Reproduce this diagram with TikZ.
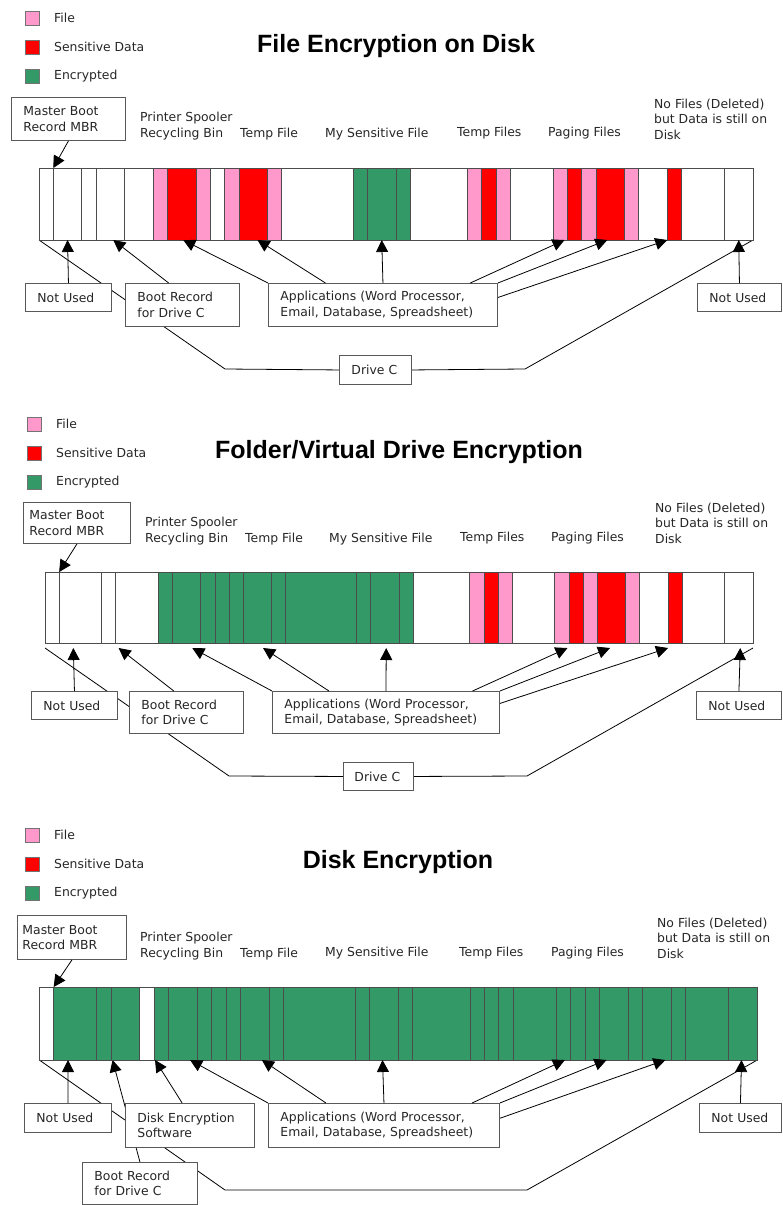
\documentclass[tikz,border=0pt]{standalone}
\usepackage{fontspec}
\setmainfont{DejaVu Sans}
\newfontfamily\titlefont{Liberation Sans}
\usetikzlibrary{arrows.meta,calc,backgrounds}
\definecolor{filepink}{HTML}{FF99CC}
\definecolor{sensred}{HTML}{FF0000}
\definecolor{encgreen}{HTML}{339966}

\begin{document}
\begin{tikzpicture}[
  x=1pt, y=-1pt,
  every node/.style={font=\fontsize{12.4}{15.5}\selectfont, text=black!85},
  box/.style={draw=black!65, fill=white, line width=0.9pt, align=left,
              inner xsep=12pt, inner ysep=0pt, anchor=north west},
  lbl/.style={anchor=west, align=left, inner sep=0pt},
  legsq/.style={draw=black!55, line width=0.8pt, minimum size=14pt, inner sep=0pt},
  ttl/.style={font=\titlefont\bfseries\fontsize{25}{30}\selectfont, text=black},
  cell/.style={draw=black!70, line width=0.8pt},
  arr/.style={-{Triangle[length=12pt,width=12pt]}, line width=0.8pt},
  conn/.style={line width=0.8pt}
]
\useasboundingbox (0,0) rectangle (782,1205);

% legends
\foreach \p/\x/\y in {a/32/18, b/34/424, c/32/835} {
  \node[legsq, fill=filepink] (\p-lf) at (\x,\y) {};
  \node[legsq, fill=sensred]  (\p-ls) at (\x,\y+29) {};
  \node[legsq, fill=encgreen] (\p-le) at (\x,\y+58) {};
  \node[lbl] (\p-lft) at (\x+22,\y) {File};
  \node[lbl] (\p-lst) at (\x+22,\y+29) {Sensitive Data};
  \node[lbl] (\p-let) at (\x+22,\y+58) {Encrypted};
}

%% file encryption on disk
\node[ttl] (aTitle) at (396,46) {File Encryption on Disk};
\node[box, text width=90pt, minimum height=43pt] (aMBR) at (11,97) {Master Boot\\Record MBR};
\node[lbl] (aSpool)   at (140,126) {Printer Spooler\\Recycling Bin};
\node[lbl] (aTemp)    at (240,134) {Temp File};
\node[lbl] (aMine)    at (325,134) {My Sensitive File};
\node[lbl] (aTemps)   at (457,133) {Temp Files};
\node[lbl] (aPaging)  at (548,133) {Paging Files};
\node[lbl] (aDeleted) at (654,119) {No Files (Deleted)\\but Data is still on\\Disk};

\begin{scope}[shift={(39,168)}, x=14.28pt]
  \foreach \a/\b/\c in {0/1/white, 1/3/white, 3/4/white, 4/6/white, 6/8/white,
      8/9/filepink, 9/11/sensred, 11/12/filepink, 12/13/white, 13/14/filepink,
      14/16/sensred, 16/17/filepink, 17/22/white, 22/23/encgreen, 23/25/encgreen,
      25/26/encgreen, 26/30/white, 30/31/filepink, 31/32/sensred, 32/33/filepink,
      33/36/white, 36/37/filepink, 37/38/sensred, 38/39/filepink, 39/41/sensred,
      41/42/filepink, 42/44/white, 44/45/sensred, 45/48/white, 48/50/white}
    \draw[cell, fill=\c] (\a,0) rectangle (\b,72);
  \coordinate (a-bl) at (0,72);
  \coordinate (a-br) at (50,72);
  \coordinate (a-mbr) at (1,0);
  \foreach \n/\u in {1/2, 2/5.2, 3/10.1, 4/15.3, 5/24, 6/36.8, 7/39.8, 8/44, 9/49}
    \coordinate (a-t\n) at (\u,72);
\end{scope}

\node[box, text width=62pt,  minimum height=28pt] (aUnusedL) at (25,283) {Not Used};
\node[box, text width=90pt,  minimum height=43pt] (aBoot)    at (125,283) {Boot Record\\for Drive C};
\node[box, text width=205pt, minimum height=43pt] (aApps)    at (268,283) {Applications (Word Processor,\\Email, Database, Spreadsheet)};
\node[box, text width=60pt,  minimum height=28pt] (aUnusedR) at (697,283) {Not Used};
\node[box, text width=48pt,  minimum height=29pt] (aDrive)   at (339,355) {Drive C};
\coordinate (aDL) at (225,369);
\coordinate (aDR) at (525,369);

\draw[arr] (aMBR.south) -- (a-mbr);
\draw[arr] (aUnusedL.north) -- (a-t1);
\draw[arr] ($(aBoot.north west)!0.38!(aBoot.north east)$) -- (a-t2);
\draw[arr] (aApps.north west) -- (a-t3);
\draw[arr] ($(aApps.north west)!0.25!(aApps.north east)$) -- (a-t4);
\draw[arr] (aApps.north) -- (a-t5);
\draw[arr] ($(aApps.north west)!0.88!(aApps.north east)$) -- (a-t6);
\draw[arr] (aApps.north east) -- (a-t7);
\draw[arr] ($(aApps.north east)!0.33!(aApps.south east)$) -- (a-t8);
\draw[arr] (aUnusedR.north) -- (a-t9);
\begin{pgfonlayer}{background}
  \draw[conn] (a-bl) -- (aDL) -- (aDrive.west);
  \draw[conn] (aDrive.east) -- (aDR) -- (a-br);
\end{pgfonlayer}

%% folder / virtual drive encryption
\node[ttl] (bTitle) at (399,452) {Folder/Virtual Drive Encryption};
\node[box, text width=95pt, minimum height=41pt, inner xsep=6pt] (bMBR) at (23,502) {Master Boot\\Record MBR};
\node[lbl] (bSpool)   at (145,531) {Printer Spooler\\Recycling Bin};
\node[lbl] (bTemp)    at (245,539) {Temp File};
\node[lbl] (bMine)    at (329,539) {My Sensitive File};
\node[lbl] (bTemps)   at (460,538) {Temp Files};
\node[lbl] (bPaging)  at (551,538) {Paging Files};
\node[lbl] (bDeleted) at (655,523) {No Files (Deleted)\\but Data is still on\\Disk};

\begin{scope}[shift={(45,572)}, x=14.16pt]
  \foreach \a/\b/\c in {0/1/white, 1/4/white, 4/5/white, 5/8/white,
      8/9/encgreen, 9/11/encgreen, 11/12/encgreen, 12/13/encgreen, 13/14/encgreen,
      14/16/encgreen, 16/17/encgreen, 17/22/encgreen, 22/23/encgreen, 23/25/encgreen,
      25/26/encgreen, 26/30/white, 30/31/filepink, 31/32/sensred, 32/33/filepink,
      33/36/white, 36/37/filepink, 37/38/sensred, 38/39/filepink, 39/41/sensred,
      41/42/filepink, 42/44/white, 44/45/sensred, 45/48/white, 48/50/white}
    \draw[cell, fill=\c] (\a,0) rectangle (\b,71);
  \coordinate (b-bl) at (0,76);
  \coordinate (b-br) at (50,76);
  \coordinate (b-mbr) at (1,0);
  \foreach \n/\u in {1/2, 2/5.2, 3/10.4, 4/15.4, 5/24.1, 6/36.9, 7/39.9, 8/44, 9/49.1}
    \coordinate (b-t\n) at (\u,76);
\end{scope}

\node[box, text width=62pt,  minimum height=28pt] (bUnusedL) at (31,691) {Not Used};
\node[box, text width=90pt,  minimum height=42pt] (bBoot)    at (129,691) {Boot Record\\for Drive C};
\node[box, text width=203pt, minimum height=42pt] (bApps)    at (272,691) {Applications (Word Processor,\\Email, Database, Spreadsheet)};
\node[box, text width=61pt,  minimum height=28pt] (bUnusedR) at (696,691) {Not Used};
\node[box, text width=48pt,  minimum height=28pt, inner xsep=11pt] (bDrive) at (343,762) {Drive C};
\coordinate (bDL) at (229,776);
\coordinate (bDR) at (527,776);

\draw[arr] (bMBR.south) -- (b-mbr);
\draw[arr] (bUnusedL.north) -- (b-t1);
\draw[arr] ($(bBoot.north west)!0.39!(bBoot.north east)$) -- (b-t2);
\draw[arr] (bApps.north west) -- (b-t3);
\draw[arr] ($(bApps.north west)!0.25!(bApps.north east)$) -- (b-t4);
\draw[arr] (bApps.north) -- (b-t5);
\draw[arr] ($(bApps.north west)!0.88!(bApps.north east)$) -- (b-t6);
\draw[arr] (bApps.north east) -- (b-t7);
\draw[arr] ($(bApps.north east)!0.29!(bApps.south east)$) -- (b-t8);
\draw[arr] (bUnusedR.north) -- (b-t9);
\begin{pgfonlayer}{background}
  \draw[conn] (b-bl) -- (bDL) -- (bDrive.west);
  \draw[conn] (bDrive.east) -- (bDR) -- (b-br);
\end{pgfonlayer}

%% disk encryption
\node[ttl] (cTitle) at (398,862) {Disk Encryption};
\node[box, text width=99pt, minimum height=44pt, inner xsep=5pt] (cMBR) at (17,915) {Master Boot\\Record MBR};
\node[lbl] (cSpool)   at (140,946) {Printer Spooler\\Recycling Bin};
\node[lbl] (cTemp)    at (240,954) {Temp File};
\node[lbl] (cMine)    at (325,953) {My Sensitive File};
\node[lbl] (cTemps)   at (459,953) {Temp Files};
\node[lbl] (cPaging)  at (551,953) {Paging Files};
\node[lbl] (cDeleted) at (657,938) {No Files (Deleted)\\but Data is still on\\Disk};

\begin{scope}[shift={(39.3,987)}, x=14.36pt]
  \foreach \a/\b/\c in {0/1/white, 1/4/encgreen, 4/5/encgreen, 5/7/encgreen, 7/8/white,
      8/9/encgreen, 9/11/encgreen, 11/12/encgreen, 12/13/encgreen, 13/14/encgreen,
      14/16/encgreen, 16/17/encgreen, 17/22/encgreen, 22/23/encgreen, 23/25/encgreen,
      25/26/encgreen, 26/30/encgreen, 30/31/encgreen, 31/32/encgreen, 32/33/encgreen,
      33/36/encgreen, 36/37/encgreen, 37/38/encgreen, 38/39/encgreen, 39/41/encgreen,
      41/42/encgreen, 42/44/encgreen, 44/45/encgreen, 45/48/encgreen, 48/50/encgreen}
    \draw[cell, fill=\c] (\a,0) rectangle (\b,73);
  \coordinate (c-bl) at (0,73);
  \coordinate (c-br) at (50,73);
  \coordinate (c-mbr) at (1,0);
  \coordinate (c-sw) at (8.06,73);
  \foreach \n/\u in {1/2, 2/5.1, 3/10.5, 4/15.5, 5/23.9, 6/36.6, 7/39.5, 8/43.6, 9/48.9}
    \coordinate (c-t\n) at (\u,73);
\end{scope}

\node[box, text width=63pt,  minimum height=29pt] (cUnusedL) at (24,1103) {Not Used};
\node[box, text width=105pt, minimum height=44pt] (cDiskSw)  at (125,1103) {Disk Encryption\\Software};
\node[box, text width=207pt, minimum height=44pt] (cApps)    at (268,1103) {Applications (Word Processor,\\Email, Database, Spreadsheet)};
\node[box, text width=58pt,  minimum height=29pt] (cUnusedR) at (699,1103) {Not Used};
\node[box, text width=91pt,  minimum height=42pt] (cBoot)    at (82,1162) {Boot Record\\for Drive C};
\coordinate (cDL) at (225,1190);
\coordinate (cDR) at (527,1190);

\draw[arr] (cMBR.south) -- (c-mbr);
\draw[arr] (cUnusedL.north) -- (c-t1);
\draw[arr] ($(cDiskSw.north west)!0.44!(cDiskSw.north east)$) -- (c-sw);
\draw[arr] (cApps.north west) -- (c-t3);
\draw[arr] ($(cApps.north west)!0.25!(cApps.north east)$) -- (c-t4);
\draw[arr] (cApps.north) -- (c-t5);
\draw[arr] ($(cApps.north west)!0.88!(cApps.north east)$) -- (c-t6);
\draw[arr] (cApps.north east) -- (c-t7);
\draw[arr] ($(cApps.north east)!0.34!(cApps.south east)$) -- (c-t8);
\draw[arr] (cUnusedR.north) -- (c-t9);
\begin{pgfonlayer}{background}
  \draw[arr] (cBoot.north) -- (c-t2);
  \draw[conn] (c-bl) -- (cDL) -- (cDR) -- (c-br);
\end{pgfonlayer}
\end{tikzpicture}
\end{document}
